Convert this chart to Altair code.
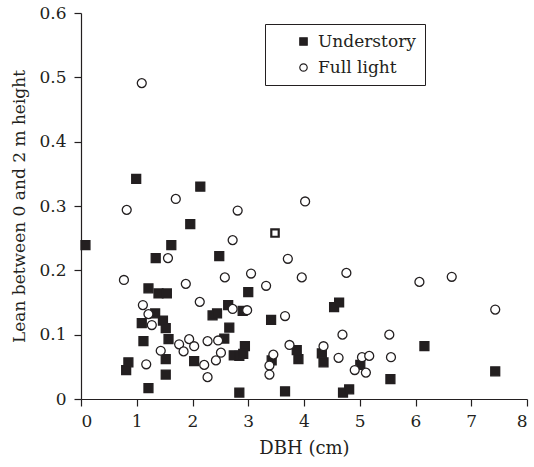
import altair as alt
import pandas as pd

under_x = [0.99, 2.14, 1.96, 0.08, 1.62, 1.34, 2.48, 1.21, 1.39, 1.54, 1.33, 2.64, 2.36, 2.44,
           1.09, 1.47, 1.52, 2.66, 1.12, 1.57, 2.57, 1.52, 2.03, 0.85, 0.81, 1.52, 1.21, 3.00,
           2.90, 3.41, 3.87, 3.90, 2.94, 2.74, 2.84, 2.91, 3.42, 4.32, 4.35, 4.54, 4.63, 5.01,
           2.84, 3.66, 4.70, 4.81, 6.16, 5.55, 7.43]
under_y = [0.342, 0.330, 0.272, 0.239, 0.239, 0.219, 0.222, 0.172, 0.164, 0.164, 0.133, 0.146,
           0.130, 0.133, 0.118, 0.122, 0.110, 0.111, 0.090, 0.093, 0.094, 0.062, 0.059, 0.057,
           0.045, 0.038, 0.017, 0.166, 0.137, 0.123, 0.076, 0.062, 0.082, 0.068, 0.067, 0.070,
           0.060, 0.071, 0.057, 0.143, 0.150, 0.053, 0.010, 0.012, 0.010, 0.015, 0.082, 0.031,
           0.043]

full_x = [1.09, 1.70, 0.82, 2.81, 4.02, 2.72, 1.56, 0.77, 1.88, 2.58, 2.13, 1.11, 1.21, 1.27,
          1.76, 1.94, 2.03, 2.27, 2.46, 1.84, 1.43, 2.51, 2.42, 2.21, 1.17, 2.27, 3.71, 3.05,
          3.32, 3.96, 4.76, 2.72, 2.98, 3.66, 3.74, 3.45, 3.38, 3.38, 4.35, 4.62, 4.69, 5.04,
          5.17, 4.91, 5.11, 6.07, 6.65, 7.43, 5.53, 5.56]
full_y = [0.491, 0.311, 0.294, 0.293, 0.307, 0.247, 0.219, 0.185, 0.179, 0.189, 0.151, 0.146,
          0.132, 0.115, 0.085, 0.093, 0.082, 0.090, 0.091, 0.074, 0.075, 0.072, 0.060, 0.053,
          0.054, 0.034, 0.218, 0.195, 0.176, 0.189, 0.196, 0.140, 0.138, 0.129, 0.084, 0.069,
          0.052, 0.038, 0.082, 0.064, 0.100, 0.065, 0.067, 0.045, 0.041, 0.182, 0.190, 0.139,
          0.100, 0.065]

other_x = [3.48]
other_y = [0.258]

groups = ["Understory", "Full light"]
x_ticks = [0, 1, 2, 3, 4, 5, 6, 7, 8]
y_ticks = [0, 0.1, 0.2, 0.3, 0.4, 0.5, 0.6]

df = pd.DataFrame({
    "dbh": under_x + full_x,
    "lean": under_y + full_y,
    "group": [groups[0]] * len(under_x) + [groups[1]] * len(full_x),
})
df_other = pd.DataFrame({"dbh": other_x, "lean": other_y})

FONT = "DejaVu Serif"
INK = "#231f20"

xs = alt.Scale(domain=[0, 8], nice=False, zero=False)
ys = alt.Scale(domain=[0, 0.6], nice=False)

xaxis = alt.Axis(values=x_ticks, format="d", title="DBH (cm)", grid=False,
                 labelPadding=7, titlePadding=10, titleFontSize=18)
yaxis = alt.Axis(values=y_ticks, title="Lean between 0 and 2 m height", grid=False,
                 labelPadding=8, titlePadding=10, titleFontSize=17,
                 labelExpr="datum.value == 0 ? '0' : format(datum.value, '.1f')")

leg = alt.Legend(title=None, orient="none", legendX=184, legendY=11,
                 strokeColor=INK, padding=9, labelFont=FONT, labelFontSize=17,
                 labelColor=INK, symbolSize=55, rowPadding=8, symbolOffset=21,
                 symbolStrokeWidth=1.2, labelOffset=6)

points = alt.Chart(df).mark_point(opacity=1, strokeWidth=1.3, size=80).encode(
    x=alt.X("dbh:Q", scale=xs, axis=xaxis),
    y=alt.Y("lean:Q", scale=ys, axis=yaxis),
    shape=alt.Shape("group:N", scale=alt.Scale(domain=groups, range=["square", "circle"]), legend=leg),
    fill=alt.Fill("group:N", scale=alt.Scale(domain=groups, range=[INK, "white"]), legend=leg),
    stroke=alt.Stroke("group:N", scale=alt.Scale(domain=groups, range=[INK, INK]), legend=leg),
)

other = alt.Chart(df_other).mark_point(shape="square", filled=False, stroke=INK, strokeWidth=2.2,
                                       size=55, opacity=1).encode(
    x=alt.X("dbh:Q", scale=xs),
    y=alt.Y("lean:Q", scale=ys),
)

chart = alt.layer(points, other).properties(
    width=446, height=386,
    autosize=alt.AutoSizeParams(type="none"),
    padding={"left": 81, "top": 13, "right": 7, "bottom": 68},
).configure_view(stroke=None).configure_axis(
    labelFont=FONT, titleFont=FONT, labelFontSize=17,
    labelColor=INK, titleColor=INK, domainColor=INK, tickColor=INK,
    titleFontWeight="normal", tickSize=7, domainWidth=1.2, tickWidth=1.2,
)

chart.save("out.html", embed_options={"renderer": "svg", "actions": False})
